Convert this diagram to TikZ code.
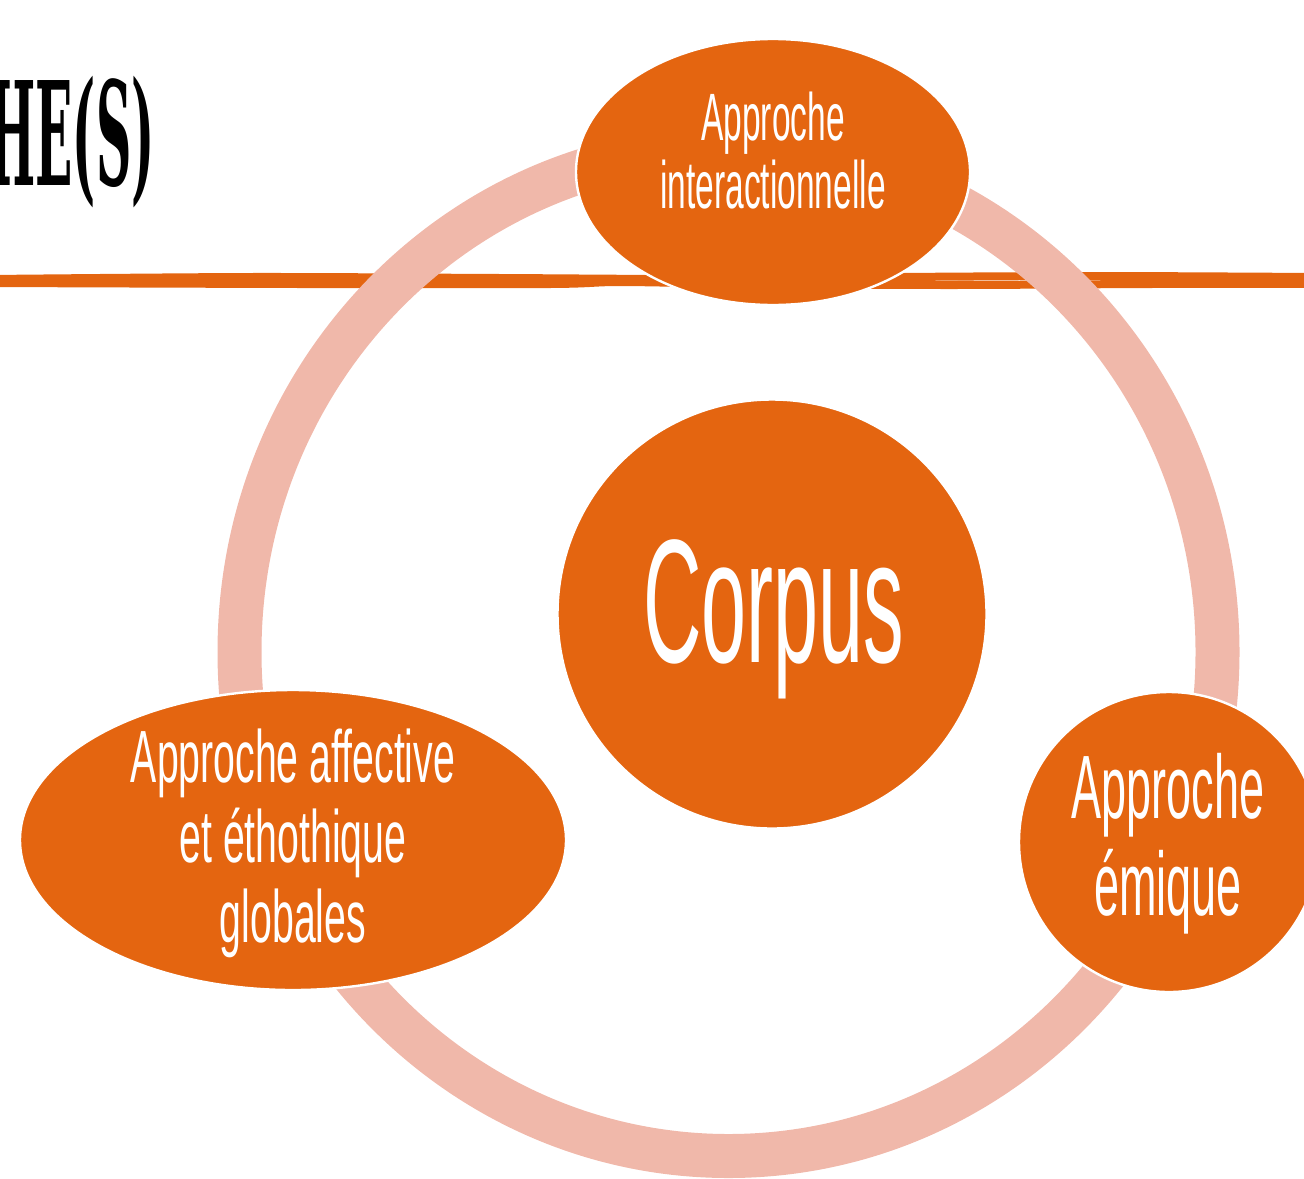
\documentclass[tikz,border=0pt]{standalone}
\usepackage{fontspec}
\setmainfont[FakeStretch=0.5]{Liberation Sans}
\newfontfamily\corpusfont[FakeStretch=0.46]{Liberation Sans}
\newfontfamily\affont[FakeStretch=0.53]{Liberation Sans}
\newfontfamily\titlefont[FakeStretch=0.34]{DejaVu Serif}
\usetikzlibrary{shapes.geometric}
\definecolor{orng}{RGB}{228,101,16}
\definecolor{ringc}{RGB}{240,184,170}
\tikzset{
  blob/.style={fill=orng, draw=white, line width=1.2pt, inner sep=0pt},
  lbl/.style={text=white, align=center, inner sep=0pt, anchor=base},
  handline/.style={orng, line width=4pt, line cap=round}
}
\begin{document}
\begin{tikzpicture}[x=0.5pt,y=-0.5pt]
\useasboundingbox (0,0) rectangle (1304,1178);
\clip (0,0) rectangle (1304,1178);
% title (cut at the left edge)
\node[anchor=base east, inner sep=0pt, font=\titlefont\bfseries\fontsize{72}{72}\selectfont] (title) at (155,185) {HE(S)};
% hand-drawn rule
\draw[handline] plot[smooth] coordinates {(-10,279) (250,277) (500,278) (700,279) (900,277) (1100,276) (1314,277)};
\draw[handline] plot[smooth] coordinates {(-10,283) (300,284) (550,284) (620,282) (750,284) (950,285) (1150,284) (1314,284)};
% ring
\draw[ringc, line width=22pt] (728.5,652) ellipse [x radius=489, y radius=504];
% shapes
\node[blob, ellipse, minimum width=197pt, minimum height=133pt] (inter) at (773,172) {};
\node[blob, circle, minimum size=214.5pt] (corpus) at (772,614) {};
\node[blob, ellipse, minimum width=273pt, minimum height=150pt] (aff) at (293,840) {};
\node[blob, circle, minimum size=150pt] (emic) at (1169,842) {};
% labels (base anchor = baseline of the last line)
\node[lbl, font=\fontsize{33.5}{34}\selectfont] (interT) at (773,208) {Approche\\interactionnelle};
\node[lbl, font=\corpusfont\fontsize{88}{88}\selectfont] (corpusT) at (774,662) {Corpus};
\node[lbl, font=\affont\fontsize{37}{40}\selectfont] (affT) at (293,942) {Approche affective\\et éthothique\\globales};
\node[lbl, font=\fontsize{45}{48.5}\selectfont] (emicT) at (1168,915) {Approche\\émique};
\end{tikzpicture}
\end{document}
